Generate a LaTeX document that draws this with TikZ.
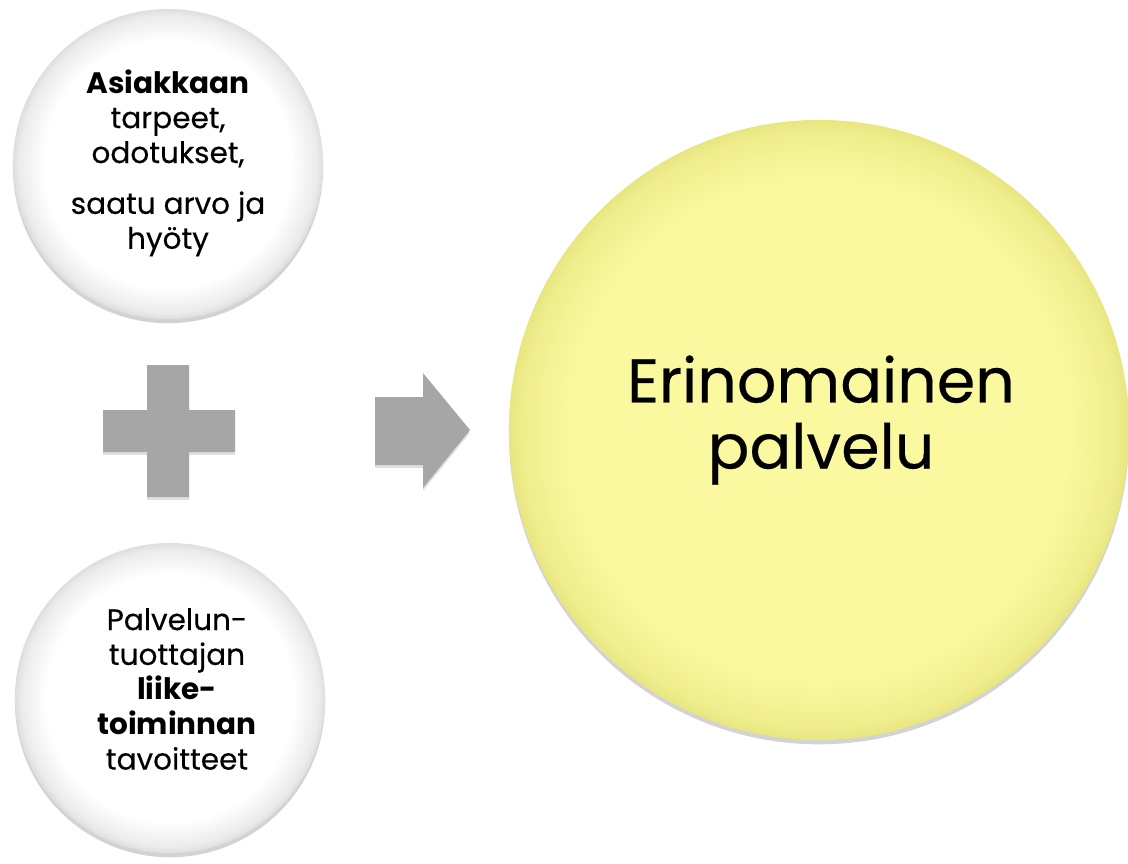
\documentclass[tikz,border=0pt]{standalone}
\usepackage{fontspec}
\setmainfont{Poppins}[UprightFeatures={FakeBold=0.35}]
\usetikzlibrary{shadows}
\definecolor{btnyellow}{RGB}{250,249,160}
\definecolor{btnyellowrim}{RGB}{232,230,128}
\definecolor{btnrim}{RGB}{222,222,222}
\definecolor{signgrey}{RGB}{166,166,166}
\pgfdeclareradialshading{whitebutton}{\pgfpoint{0bp}{0bp}}{color(0bp)=(white); color(20bp)=(white); color(24bp)=(btnrim!60); color(25bp)=(btnrim); color(50bp)=(btnrim)}
\pgfdeclareradialshading{yellowbutton}{\pgfpoint{0bp}{0bp}}{color(0bp)=(btnyellow); color(20bp)=(btnyellow); color(24bp)=(btnyellowrim!60!btnyellow); color(25bp)=(btnyellowrim); color(50bp)=(btnyellowrim)}
\begin{document}
\begin{tikzpicture}[x=0.025cm,y=-0.025cm,
  button/.style={circle,inner sep=0pt,
    drop shadow={opacity=0.35,shadow xshift=0pt,shadow yshift=-3pt}},
  whitebtn/.style={button,shading=whitebutton,minimum size=7.75cm},
  yellowbtn/.style={button,shading=yellowbutton,minimum size=15.5cm},
  smalltext/.style={align=center,font=\fontsize{21}{24.8}\selectfont},
  bigtext/.style={align=center,font=\fontsize{44}{47}\selectfont},
  sign/.style={fill=signgrey,
    drop shadow={opacity=0.25,shadow xshift=0pt,shadow yshift=-2pt}}]
\useasboundingbox (0,0) rectangle (1128,863);
\node[whitebtn] (needs) at (168,164) {};
\node[whitebtn] (goals) at (170,698) {};
\node[yellowbtn] (service) at (819,430) {};
\node[smalltext] (needsText) at (168,163) {{\bfseries Asiakkaan}\\tarpeet,\\odotukset,\\[0.4cm]saatu arvo ja\\hyöty};
\node[smalltext] (goalsText) at (177,689) {Palvelun-\\tuottajan\\{\bfseries liike-}\\{\bfseries toiminnan}\\tavoitteet};
\node[bigtext] (serviceText) at (821,420) {Erinomainen\\palvelu};
\fill[sign] (147,365) -- (189,365) -- (189,410) -- (235,410) -- (235,452) -- (189,452)
  -- (189,497) -- (147,497) -- (147,452) -- (103,452) -- (103,410) -- (147,410) -- cycle;
\fill[sign] (375,397) -- (423,397) -- (423,373) -- (470,430) -- (423,488) -- (423,465)
  -- (375,465) -- cycle;
\end{tikzpicture}
\end{document}
